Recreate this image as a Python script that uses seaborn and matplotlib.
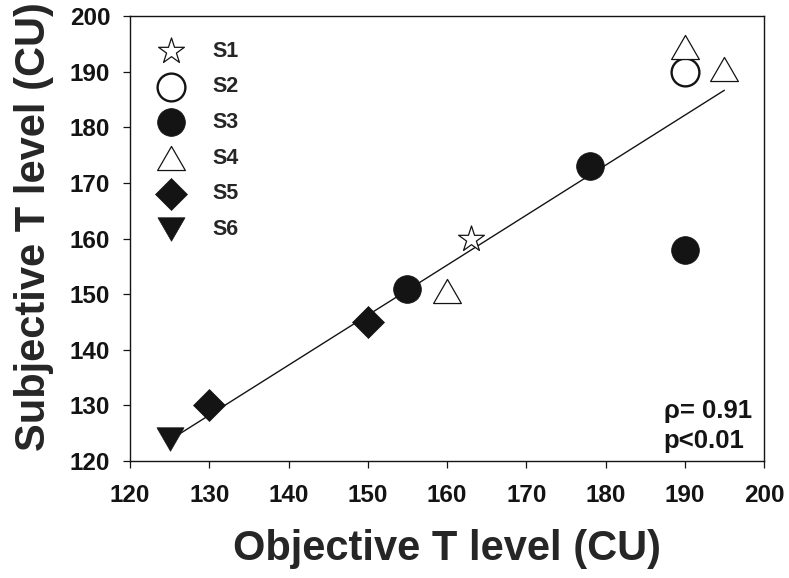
import matplotlib
matplotlib.use("Agg")
import matplotlib.pyplot as plt
import seaborn as sns
import numpy as np
import pandas as pd
from matplotlib.path import Path

# ---- data ----
s1_x = [163]; s1_y = [160]
s2_x = [190]; s2_y = [190]
s3_x = [155, 178, 190]; s3_y = [151, 173, 158]
s4_x = [160, 190, 195]; s4_y = [150.5, 194.5, 190.5]
s5_x = [130, 150]; s5_y = [130, 145]
s6_x = [125]; s6_y = [124]
subjects = ["S1", "S2", "S3", "S4", "S5", "S6"]
x_ticks = [120, 130, 140, 150, 160, 170, 180, 190, 200]
y_ticks = [120, 130, 140, 150, 160, 170, 180, 190, 200]
annot_text = "ρ= 0.91\np<0.01"

sns.set_style("ticks")
plt.rcParams["font.family"] = ["Liberation Sans", "DejaVu Sans"]
plt.rcParams["font.weight"] = "bold"

fig = plt.figure(figsize=(7.89, 5.78), dpi=100)
ax = fig.add_axes([130/789, 1-461/578, (764-130)/789, (461-16)/578])

tri_up = Path([(-1, -0.866), (1, -0.866), (0, 0.866), (-1, -0.866)],
              [Path.MOVETO, Path.LINETO, Path.LINETO, Path.CLOSEPOLY])
tri_dn = Path([(-1, 0.866), (1, 0.866), (0, -0.866), (-1, 0.866)],
              [Path.MOVETO, Path.LINETO, Path.LINETO, Path.CLOSEPOLY])

blk = "#141414"
series = [
    (s1_x, s1_y, "*", 380, "white", blk, 0.9),
    (s2_x, s2_y, "o", 400, "white", blk, 1.7),
    (s3_x, s3_y, "o", 400, blk, blk, 0.5),
    (s4_x, s4_y, tri_up, 400, "white", blk, 0.9),
    (s5_x, s5_y, "D", 265, blk, blk, 0.5),
    (s6_x, s6_y, tri_dn, 380, blk, blk, 0.5),
]

all_x, all_y = [], []
for (xs, ys, *_ ) in series:
    all_x += xs; all_y += ys
df_all = pd.DataFrame({"x": all_x, "y": all_y})
sns.regplot(data=df_all, x="x", y="y", scatter=False, ci=None, truncate=True,
            line_kws=dict(color=blk, lw=1.0, zorder=1), ax=ax)

for name, (xs, ys, mk, s, fc, ec, lw) in zip(subjects, series):
    sns.scatterplot(x=xs, y=ys, marker=mk, s=s, color=fc, edgecolor=ec,
                    linewidth=lw, label=name, ax=ax, zorder=3)

ax.set_xlim(120, 200)
ax.set_ylim(120, 200)
ax.set_xticks(x_ticks)
ax.set_yticks(y_ticks)
ax.tick_params(axis="both", direction="out", length=4.7, width=0.9, colors=blk,
               labelsize=17.5)
ax.tick_params(axis="x", pad=12.0)
ax.tick_params(axis="y", pad=9.5)
for lab in ax.get_xticklabels() + ax.get_yticklabels():
    lab.set_fontweight("bold")
for sp in ax.spines.values():
    sp.set_visible(True)
    sp.set_color(blk)
    sp.set_linewidth(1.0)

ax.set_xlabel("Objective T level (CU)", fontsize=30, fontweight="bold", labelpad=16)
ax.set_ylabel("Subjective T level (CU)", fontsize=30, fontweight="bold")
ax.yaxis.set_label_coords(-0.12, 0.527)

leg = ax.legend(loc="upper left", bbox_to_anchor=(0.0175, 0.964), borderaxespad=0,
                frameon=False, prop=dict(size=15.5, weight="bold"), scatterpoints=1,
                handletextpad=0.9, labelspacing=0.68, handlelength=2.0)

ax.text(0.981, 0.0187, annot_text, transform=ax.transAxes, ha="right", va="bottom",
        multialignment="left", fontsize=18.5, fontweight="bold", linespacing=1.3,
        color=blk)

fig.savefig("out.png", dpi=100)
